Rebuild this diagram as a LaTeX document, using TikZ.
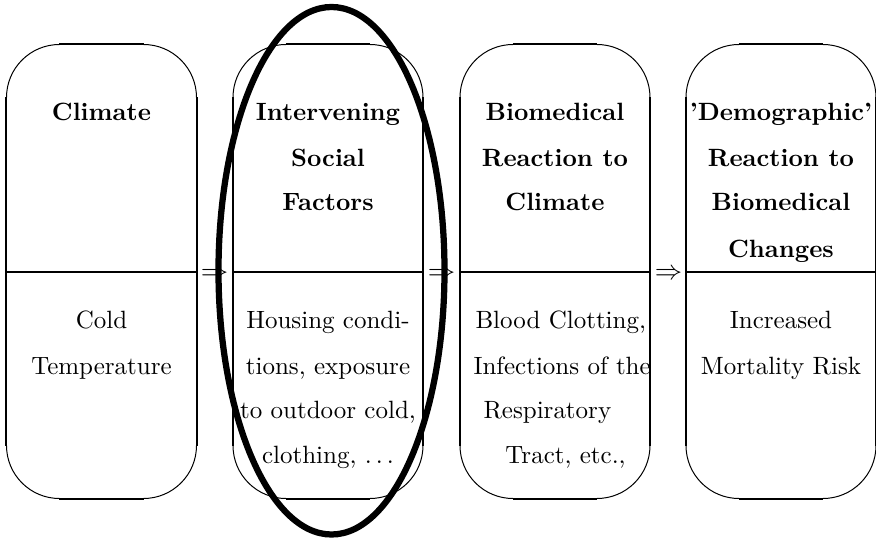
\documentclass[tikz,border=0pt]{standalone}
\usetikzlibrary{calc}
\begin{document}
\begin{tikzpicture}[x=0.4pt,y=-0.4pt,
  boxarea/.style={draw=none, inner sep=0pt, minimum width=75.6pt, minimum height=181.2pt},
  arcline/.style={line width=0.4pt, rounded corners=21.2pt},
  straightline/.style={line width=0.8pt},
  title/.style={font=\bfseries, anchor=base, inner sep=0pt},
  body/.style={anchor=base, inner sep=0pt},
  bodyleft/.style={anchor=base west, inner sep=0pt},
  implies/.style={anchor=base, inner sep=0pt, text=black, font=\fontsize{11}{13}\selectfont},
  ring/.style={line width=2.5pt}]
\useasboundingbox (0,0) rectangle (876,540);
\coordinate (div) at (0,272);
% box areas
\node[boxarea] (b1) at (101.5,271.5) {};
\node[boxarea] (b2) at (328,271.5) {};
\node[boxarea] (b3) at (555,271.5) {};
\node[boxarea] (b4) at (781,271.5) {};
\foreach \b in {b1,b2,b3,b4}{
  \draw[arcline] (\b.south west) rectangle (\b.north east);
  \draw[straightline] ([yshift=-21.2pt]\b.north west) -- ([yshift=21.2pt]\b.south west);
  \draw[straightline] ([yshift=-21.2pt]\b.north east) -- ([yshift=21.2pt]\b.south east);
  \draw[straightline] ([xshift=21.2pt]\b.north west) -- ([xshift=-21.2pt]\b.north east);
  \draw[straightline] ([xshift=21.2pt]\b.south west) -- ([xshift=-21.2pt]\b.south east);
  \draw[straightline] (\b.west |- div) -- (\b.east |- div);
}
% arrows
\node[implies] (a1) at (214.5,279) {$\Rightarrow$};
\node[implies] (a2) at (441.5,279) {$\Rightarrow$};
\node[implies] (a3) at (668.5,279) {$\Rightarrow$};
% titles
\node[title] (t1) at (101.5,121) {Climate};
\node[title] (t2a) at (328,121) {Intervening};
\node[title] (t2b) at (328,166) {Social};
\node[title] (t2c) at (328,211) {Factors};
\node[title] (t3a) at (555,121) {Biomedical};
\node[title] (t3b) at (555,166) {Reaction to};
\node[title] (t3c) at (555,211) {Climate};
\node[title] (t4a) at (781,121) {'Demographic'};
\node[title] (t4b) at (781,166) {Reaction to};
\node[title] (t4c) at (781,211) {Biomedical};
\node[title] (t4d) at (781,257) {Changes};
% bodies
\node[body] (c1a) at (101.5,329) {Cold};
\node[body] (c1b) at (101.5,374) {Temperature};
\node[body] (c2a) at (328,329) {Housing condi-};
\node[body] (c2b) at (328,374) {tions, exposure};
\node[body] (c2c) at (328,419) {to outdoor cold,};
\node[body] (c2d) at (328,464) {clothing, $\ldots$};
\node[bodyleft] (c3a) at (475,329) {Blood Clotting,};
\node[bodyleft] (c3b) at (473,374) {Infections of the};
\node[bodyleft] (c3c) at (483,419) {Respiratory};
\node[bodyleft] (c3d) at (505,464) {Tract, etc.,};
\node[body] (c4a) at (781,329) {Increased};
\node[body] (c4b) at (781,374) {Mortality Risk};
% highlight ellipse
\draw[ring] (331.5,270.75) ellipse [x radius=113, y radius=263.75];
\end{tikzpicture}
\end{document}
